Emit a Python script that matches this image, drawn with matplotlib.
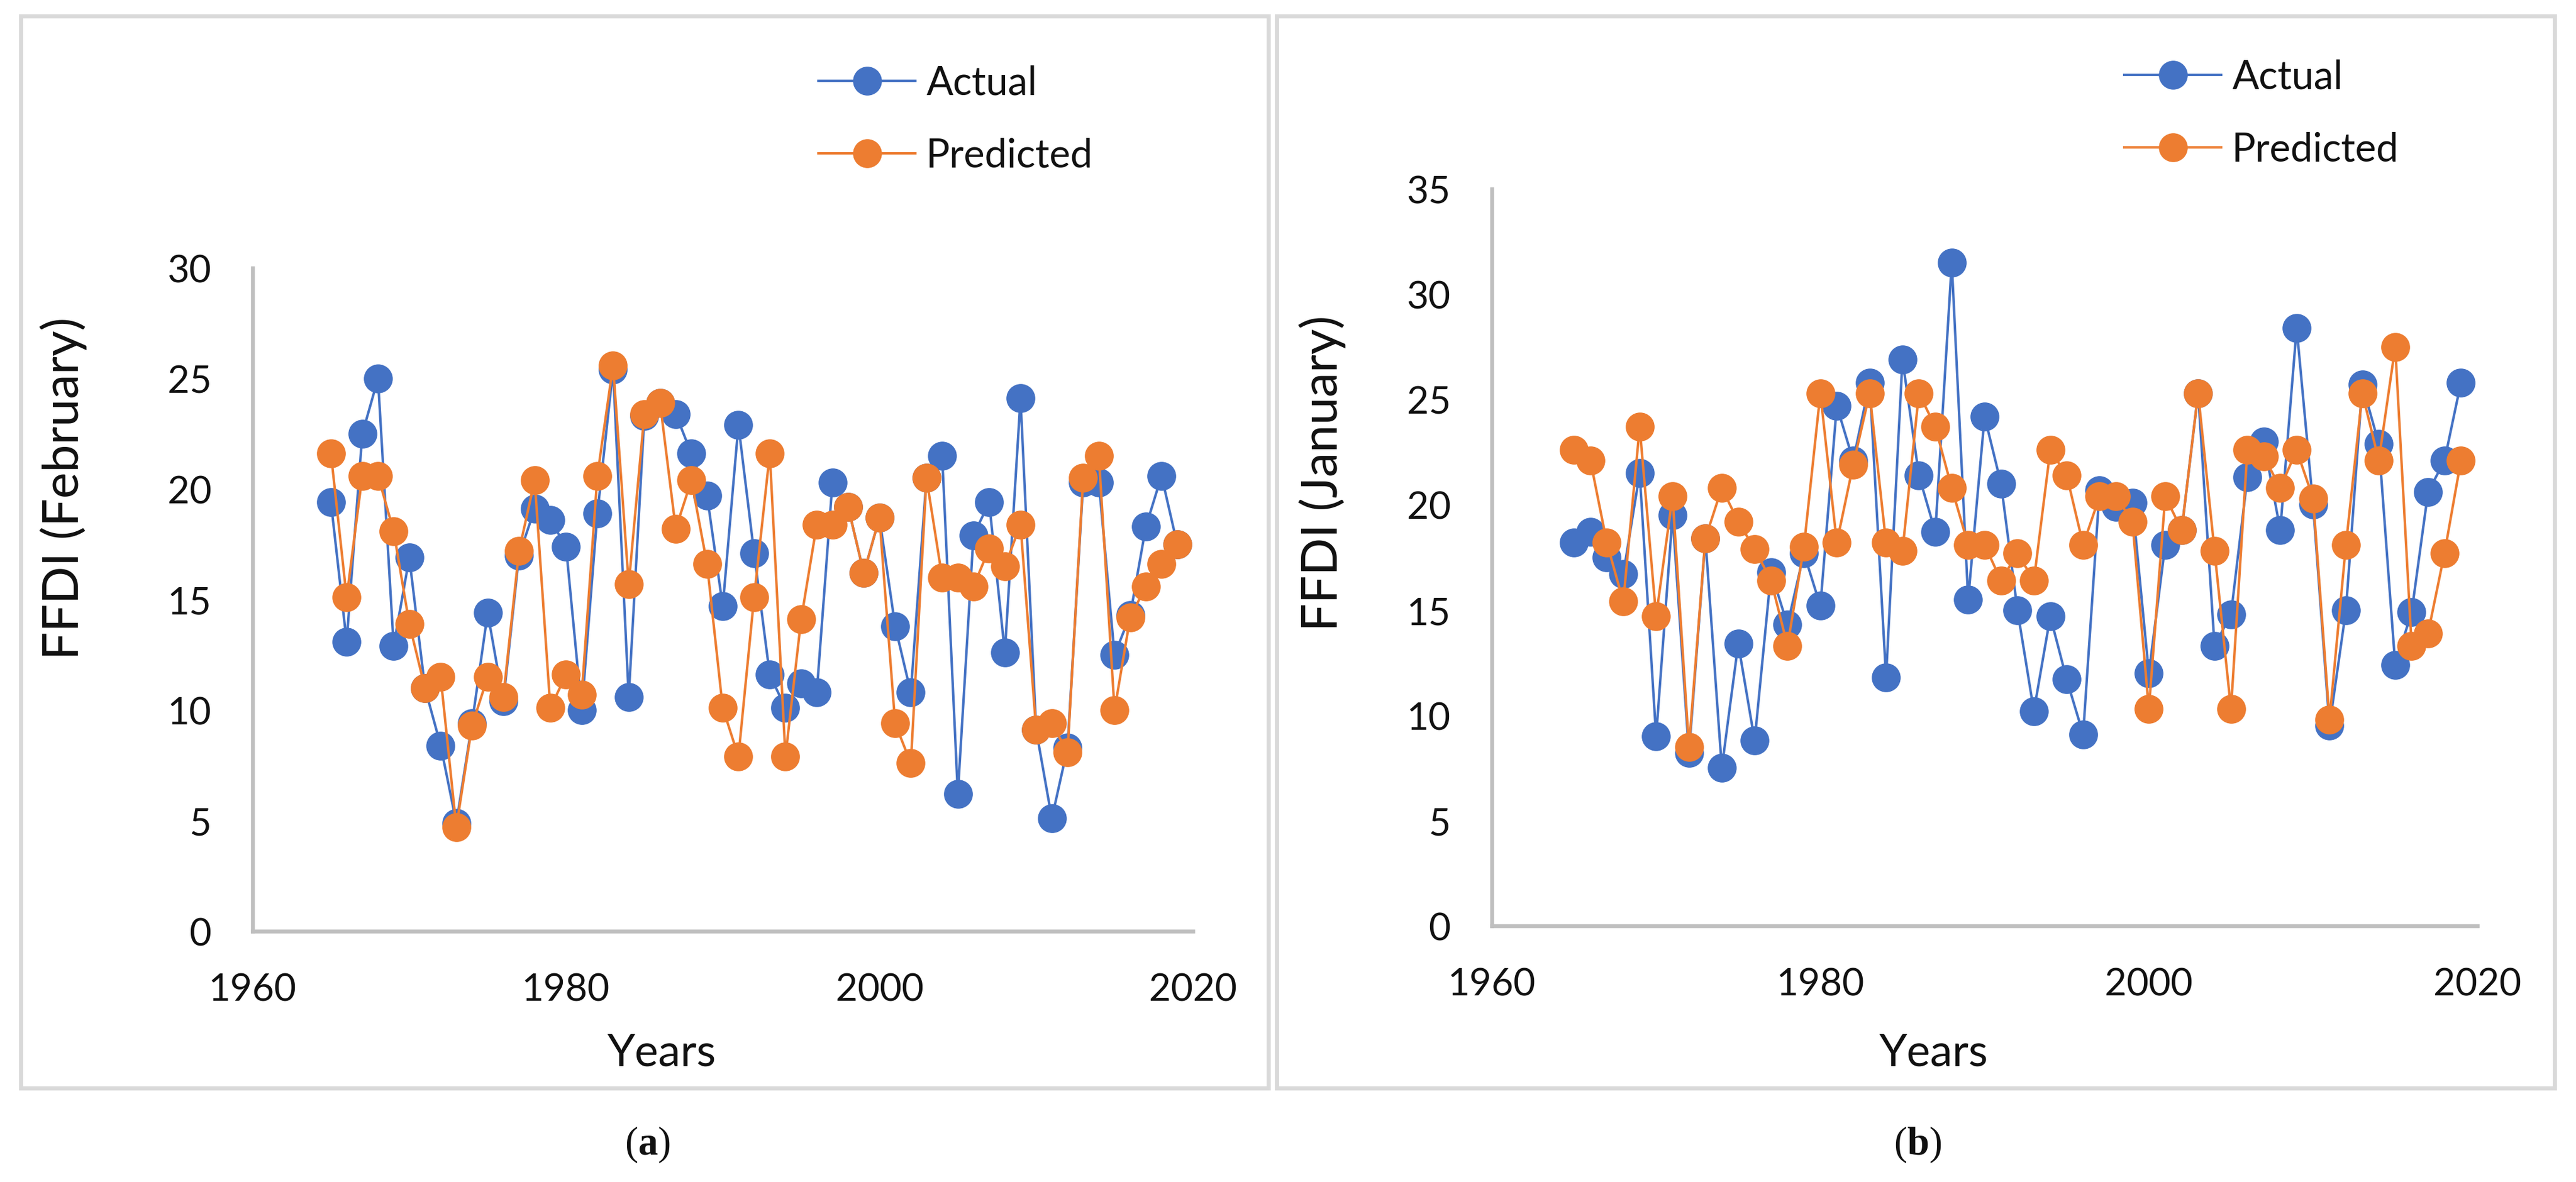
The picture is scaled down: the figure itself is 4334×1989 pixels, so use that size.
import matplotlib
matplotlib.use('Agg')
import matplotlib.pyplot as plt
from matplotlib.patches import Rectangle
from matplotlib.lines import Line2D

# 数据 (1965-2019)
years = list(range(1965, 2020))

feb_actual = [19.4, 13.1, 22.5, 25.0, 12.9, 16.9, 11.0, 8.4, 4.9, 9.4,
              14.4, 10.4, 17.0, 19.1, 18.6, 17.4, 10.0, 18.9, 25.4, 10.6,
              23.3, 23.9, 23.4, 21.6, 19.7, 14.7, 22.9, 17.1, 11.6, 10.1,
              11.2, 10.8, 20.3, 19.2, 16.2, 18.7, 13.8, 10.8, 20.5, 21.5,
              6.2, 17.9, 19.4, 12.6, 24.1, 9.1, 5.1, 8.3, 20.3, 20.3,
              12.5, 14.3, 18.3, 20.6, 17.5]
feb_pred = [21.6, 15.1, 20.6, 20.6, 18.1, 13.9, 11.0, 11.5, 4.7, 9.3,
            11.5, 10.6, 17.2, 20.4, 10.1, 11.6, 10.7, 20.6, 25.6, 15.7,
            23.4, 23.9, 18.2, 20.4, 16.6, 10.1, 7.9, 15.1, 21.6, 7.9,
            14.1, 18.4, 18.4, 19.2, 16.2, 18.7, 9.4, 7.6, 20.5, 16.0,
            16.0, 15.6, 17.3, 16.5, 18.4, 9.1, 9.4, 8.1, 20.5, 21.5,
            10.0, 14.2, 15.6, 16.6, 17.5]

jan_actual = [18.2, 18.7, 17.5, 16.7, 21.5, 9.0, 19.5, 8.2, 18.4, 7.5,
              13.4, 8.8, 16.8, 14.3, 17.7, 15.2, 24.7, 22.1, 25.8, 11.8,
              26.9, 21.4, 18.7, 31.5, 15.5, 24.2, 21.0, 15.0, 10.2, 14.7,
              11.7, 9.1, 20.7, 19.9, 20.1, 12.0, 18.1, 18.8, 25.3, 13.3,
              14.8, 21.3, 23.0, 18.8, 28.4, 20.0, 9.5, 15.0, 25.7, 22.9,
              12.4, 14.9, 20.6, 22.1, 25.8]
jan_pred = [22.6, 22.1, 18.2, 15.4, 23.7, 14.7, 20.4, 8.5, 18.4, 20.8,
            19.2, 17.9, 16.4, 13.3, 18.0, 25.3, 18.2, 21.9, 25.3, 18.2,
            17.8, 25.3, 23.7, 20.8, 18.1, 18.1, 16.4, 17.7, 16.4, 22.6,
            21.4, 18.1, 20.4, 20.4, 19.2, 10.3, 20.4, 18.8, 25.3, 17.8,
            10.3, 22.6, 22.3, 20.8, 22.6, 20.3, 9.8, 18.1, 25.3, 22.1,
            27.5, 13.3, 13.9, 17.7, 22.1]

BLUE = '#4472C4'
ORANGE = '#ED7D31'
AXIS_GRAY = '#BFBFBF'
BORDER_GRAY = '#D9D9D9'
TXT = '#111111'

plt.rcParams['font.family'] = ['Lato', 'DejaVu Sans']
plt.rcParams['mathtext.fontset'] = 'custom'
plt.rcParams['mathtext.bf'] = 'Liberation Serif:bold'

W, H = 4334, 1990
fig = plt.figure(figsize=(W / 100, H / 100), dpi=100)


def fx(px):
    return px / W


def fy(py):
    return 1 - py / H


# 面板边框
for x0, x1 in [(35, 2134), (2148, 4298)]:
    fig.patches.append(Rectangle((fx(x0), fy(1832)), fx(x1 - x0), (1832 - 28) / H,
                                 transform=fig.transFigure, fill=False,
                                 edgecolor=BORDER_GRAY, linewidth=5, zorder=0))

panels = [
    dict(rect=(425, 452, 2007, 1568), actual=feb_actual, pred=feb_pred, ymax=30,
         ylabel='FFDI (February)', ylab_xy=(108, 822), years_xy=(1114, 1772),
         tag='a', tag_xy=(1089, 1926), leg_xy=(1377, 202)),
    dict(rect=(2510, 319, 4168, 1559), actual=jan_actual, pred=jan_pred, ymax=35,
         ylabel='FFDI (January)', ylab_xy=(2226, 796), years_xy=(3254, 1772),
         tag='b', tag_xy=(3226, 1926), leg_xy=(3574, 192)),
]

for p in panels:
    l, t, r, b = p['rect']
    ax = fig.add_axes([fx(l), fy(b), fx(r - l), (b - t) / H])
    ax.plot(years, p['actual'], color=BLUE, lw=3, marker='o', ms=34,
            mec=BLUE, mfc=BLUE, clip_on=False, zorder=3)
    ax.plot(years, p['pred'], color=ORANGE, lw=3, marker='o', ms=34,
            mec=ORANGE, mfc=ORANGE, clip_on=False, zorder=4)
    ax.set_xlim(1960, 2020)
    ax.set_ylim(0, p['ymax'])
    ax.set_xticks([1960, 1980, 2000, 2020])
    ax.set_yticks(range(0, p['ymax'] + 1, 5))
    for s in ['top', 'right']:
        ax.spines[s].set_visible(False)
    for s in ['left', 'bottom']:
        ax.spines[s].set_color(AXIS_GRAY)
        ax.spines[s].set_linewidth(4.7)
    ax.tick_params(length=0, labelsize=46, labelcolor=TXT, pad=50)
    ax.patch.set_alpha(0)

    fig.text(fx(p['ylab_xy'][0]), fy(p['ylab_xy'][1]), p['ylabel'], rotation=90,
             ha='center', va='center', fontsize=60, color=TXT)
    fig.text(fx(p['years_xy'][0]), fy(p['years_xy'][1]), 'Years',
             ha='center', va='center', fontsize=54, color=TXT)
    fig.text(fx(p['tag_xy'][0]), fy(p['tag_xy'][1]), '($\\mathbf{%s}$)' % p['tag'],
             ha='center', va='center', fontsize=48, color=TXT,
             family='Liberation Serif')

    handles = [Line2D([], [], color=BLUE, lw=3, marker='o', ms=34),
               Line2D([], [], color=ORANGE, lw=3, marker='o', ms=34)]
    fig.legend(handles, ['Actual', 'Predicted'], loc='center left',
               bbox_to_anchor=(fx(p['leg_xy'][0]), fy(p['leg_xy'][1])),
               frameon=False, fontsize=48, handlelength=2.45, handletextpad=0.27,
               labelspacing=0.9, borderpad=0, borderaxespad=0, numpoints=1,
               labelcolor=TXT)

fig.savefig('out.png', dpi=100, facecolor='white')
